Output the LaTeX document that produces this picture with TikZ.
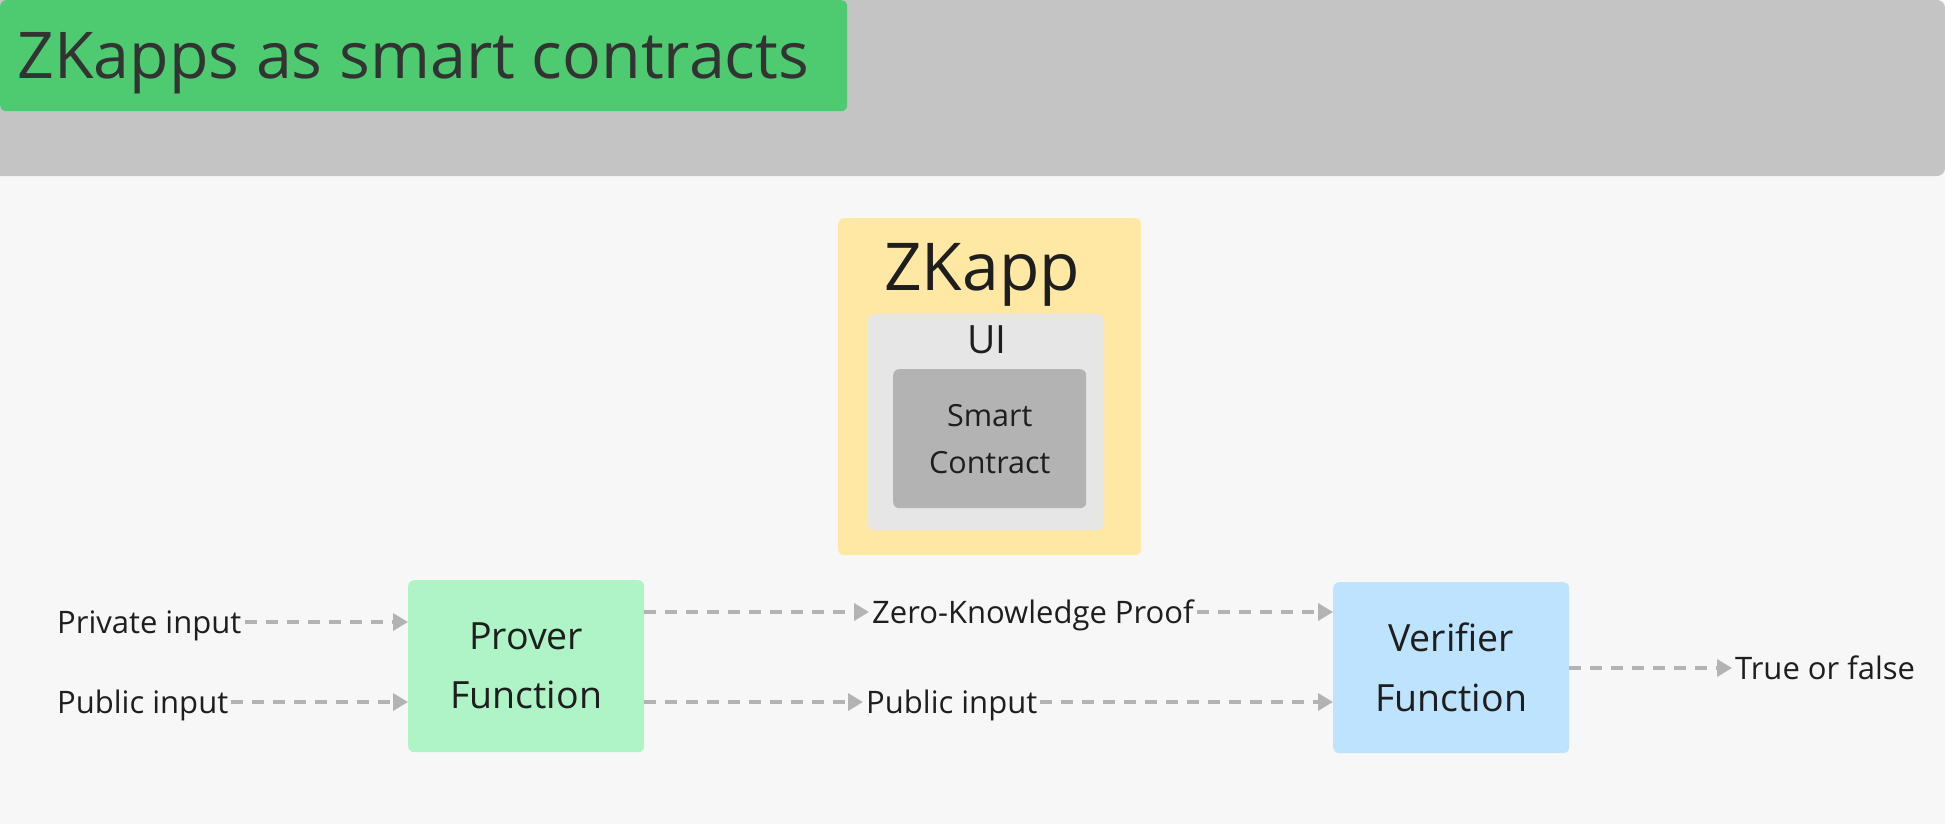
\documentclass[tikz,border=0pt]{standalone}
\usepackage{fontspec}
\setmainfont{Open Sans}
\usetikzlibrary{arrows.meta}
\definecolor{bgc}{HTML}{F7F7F7}
\definecolor{hdrc}{HTML}{C4C4C4}
\definecolor{greenc}{HTML}{4ECB71}
\definecolor{yellowc}{HTML}{FFE8A3}
\definecolor{uic}{HTML}{E6E6E6}
\definecolor{scc}{HTML}{B3B3B3}
\definecolor{proverc}{HTML}{AFF4C6}
\definecolor{verifc}{HTML}{BDE3FF}
\definecolor{arrowc}{HTML}{B3B3B3}
\definecolor{txtc}{HTML}{1E1E1E}
\definecolor{titlec}{HTML}{333333}
\tikzset{
  box/.style={draw=none, rounded corners=6pt, inner sep=0pt, align=center, text=txtc},
  lbl/.style={inner xsep=3pt, inner ysep=0pt, text height=23pt, text depth=0pt, text=txtc, font=\fontsize{31}{37}\selectfont},
  flow/.style={draw=arrowc, line width=3.5pt, dash pattern=on 12pt off 9pt, -{Triangle[length=15pt,width=17pt]}},
}
\begin{document}
\begin{tikzpicture}[x=1pt,y=-1pt]
\useasboundingbox (0,0) rectangle (1945,824);
\fill[bgc] (0,0) rectangle (1945,824);
\fill[hdrc] (0,176) -- (0,0) [rounded corners=8pt] -- (1945,0) -- (1945,176) [sharp corners] -- cycle;
% title
\node[box, fill=greenc, anchor=north west, minimum width=847pt, minimum height=111pt] (titlebox) at (0,0) {};
\node[anchor=base west, inner sep=0pt, text=titlec, font=\fontsize{64.5}{78}\selectfont] (title) at (17,79) {ZKapps as smart contracts};
% ZKapp
\node[box, fill=yellowc, anchor=north west, minimum width=303pt, minimum height=337pt] (zkapp) at (838,218) {};
\node[anchor=base, inner sep=0pt, text=txtc, font=\fontsize{66}{80}\selectfont] (zkapptitle) at (982,290) {ZKapp};
\node[box, fill=uic, anchor=north west, minimum width=235pt, minimum height=216pt] (ui) at (868,314) {};
\node[anchor=base, inner sep=0pt, text=txtc, font=\fontsize{39}{47}\selectfont] (uititle) at (987,353) {UI};
\node[box, fill=scc, anchor=north west, minimum width=193pt, minimum height=139pt, font=\fontsize{30.5}{47}\selectfont] (sc) at (893,369) {Smart\\Contract};
% functions
\node[box, fill=proverc, anchor=north west, minimum width=236pt, minimum height=172pt, font=\fontsize{37.5}{59}\selectfont] (prover) at (408,580) {Prover\\Function};
\node[box, fill=verifc, anchor=north west, minimum width=236pt, minimum height=171pt, font=\fontsize{37.5}{60}\selectfont] (verifier) at (1333,582) {Verifier\\Function};
% labels
\node[lbl, anchor=west] (privin) at (54,622) {Private input};
\node[lbl, anchor=west] (pubin) at (54,702) {Public input};
\node[lbl, anchor=west] (zkp) at (869,612) {Zero-Knowledge Proof};
\node[lbl, anchor=west] (pubmid) at (863,702) {Public input};
\node[lbl, anchor=west] (result) at (1732,668) {True or false};
% connectors
\draw[flow] (privin.east) -- (prover.west |- privin.east);
\draw[flow] (pubin.east) -- (prover.west |- pubin.east);
\draw[flow] (prover.east |- zkp.west) -- (zkp.west);
\draw[flow] (zkp.east) -- (verifier.west |- zkp.east);
\draw[flow] (prover.east |- pubmid.west) -- (pubmid.west);
\draw[flow] (pubmid.east) -- (verifier.west |- pubmid.east);
\draw[flow] (verifier.east |- result.west) -- (result.west);
\end{tikzpicture}
\end{document}
